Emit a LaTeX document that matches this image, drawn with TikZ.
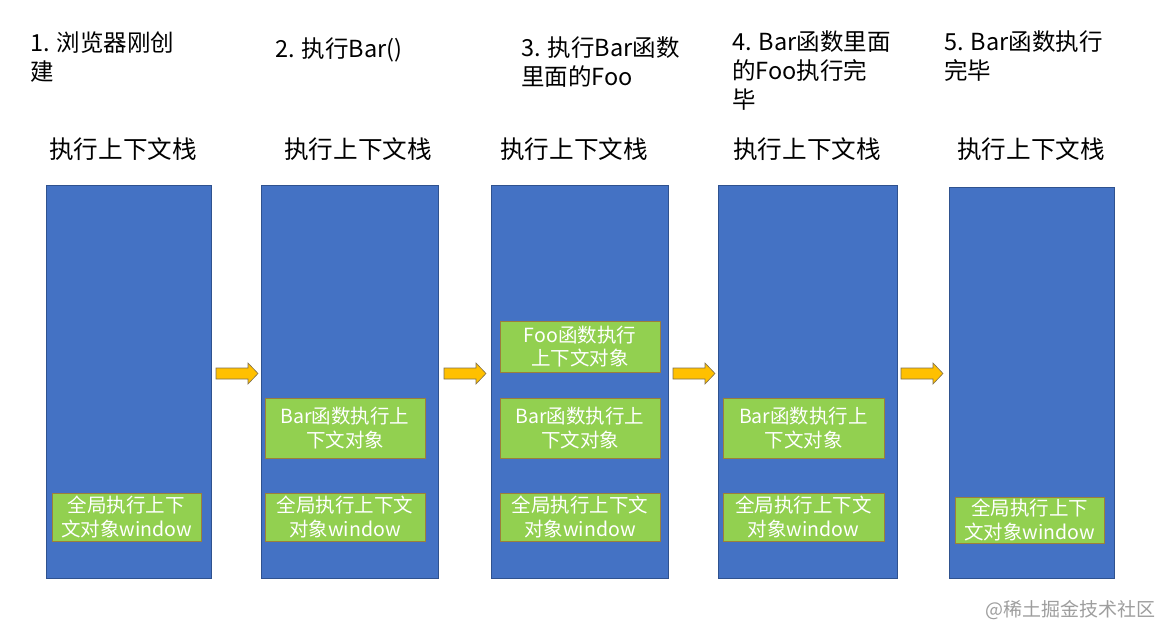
\documentclass[tikz,border=0pt]{standalone}
\usepackage{fontspec}
\setmainfont{Noto Sans CJK SC}
\usetikzlibrary{positioning}
\definecolor{stackblue}{HTML}{4472C4}
\definecolor{stackedge}{HTML}{2F528F}
\definecolor{ctxgreen}{HTML}{92D050}
\definecolor{ctxedge}{HTML}{9C7F3A}
\definecolor{arrowfill}{HTML}{FFC000}
\definecolor{arrowedge}{HTML}{7F7050}
\begin{document}
\begin{tikzpicture}[x=1pt,y=-1pt,
  stackbox/.style={draw=stackedge,fill=stackblue,line width=0.8pt},
  ctxbox/.style={draw=ctxedge,fill=ctxgreen,line width=0.8pt,text=white,align=center,
     font=\fontsize{19.5}{23.5}\selectfont,inner sep=0pt},
  steptitle/.style={anchor=north west,align=left,inner sep=0pt,font=\fontsize{23.5}{29}\selectfont},
  stacklabel/.style={inner sep=0pt,font=\fontsize{24.6}{28}\selectfont},
  blockarrow/.style={draw=arrowedge,fill=arrowfill,line width=0.6pt}]
\useasboundingbox (0,0) rectangle (1162,628);
\fill[white] (0,0) rectangle (1162,628);

% columns
\draw[stackbox] (46,185) rectangle (211,578);
\draw[stackbox] (261,185) rectangle (438,578);
\draw[stackbox] (491,185) rectangle (668,578);
\draw[stackbox] (718,185) rectangle (897,578);
\draw[stackbox] (949,187) rectangle (1114,578);

% titles
\node[steptitle] (t1) at (30,32) {1. 浏览器刚创\\建};
\node[steptitle] (t2) at (275,38) {2. 执行Bar()};
\node[steptitle] (t3) at (521,37) {3. 执行Bar函数\\里面的Foo};
\node[steptitle] (t4) at (732,31) {4. Bar函数里面\\的Foo执行完\\毕};
\node[steptitle] (t5) at (944,31) {5. Bar函数执行\\完毕};

% stack labels
\node[stacklabel] (s1) at (123,149) {执行上下文栈};
\node[stacklabel] (s2) at (358,149) {执行上下文栈};
\node[stacklabel] (s3) at (574,149) {执行上下文栈};
\node[stacklabel] (s4) at (807,149) {执行上下文栈};
\node[stacklabel] (s5) at (1031,149) {执行上下文栈};

% context boxes
\node[ctxbox,minimum width=149pt,minimum height=48pt] (g1) at (126.5,517) {全局执行上下\\文对象window};

\node[ctxbox,minimum width=160pt,minimum height=60pt] (b2) at (345,428) {Bar函数执行上\\下文对象};
\node[ctxbox,minimum width=160pt,minimum height=48pt] (g2) at (345,517) {全局执行上下文\\对象window};

\node[ctxbox,minimum width=160pt,minimum height=51pt] (f3) at (580,346.5) {Foo函数执行\\上下文对象};
\node[ctxbox,minimum width=160pt,minimum height=60pt] (b3) at (580,428) {Bar函数执行上\\下文对象};
\node[ctxbox,minimum width=160pt,minimum height=48pt] (g3) at (580,517) {全局执行上下文\\对象window};

\node[ctxbox,minimum width=161pt,minimum height=60pt] (b4) at (803.5,428) {Bar函数执行上\\下文对象};
\node[ctxbox,minimum width=161pt,minimum height=48pt] (g4) at (803.5,517) {全局执行上下文\\对象window};

\node[ctxbox,minimum width=149pt,minimum height=46pt] (g5) at (1029.5,520) {全局执行上下\\文对象window};

% block arrows
\foreach \xs in {216,444,673,901}{
  \draw[blockarrow] (\xs,368) -- (\xs+32,368) -- (\xs+32,363) -- (\xs+42,373.5)
    -- (\xs+32,384) -- (\xs+32,379) -- (\xs,379) -- cycle;
}

% watermark
\node[anchor=east,inner sep=0pt,text=black!38,font=\fontsize{19}{21}\selectfont] (wm) at (1156,610) {@稀土掘金技术社区};
\end{tikzpicture}
\end{document}
